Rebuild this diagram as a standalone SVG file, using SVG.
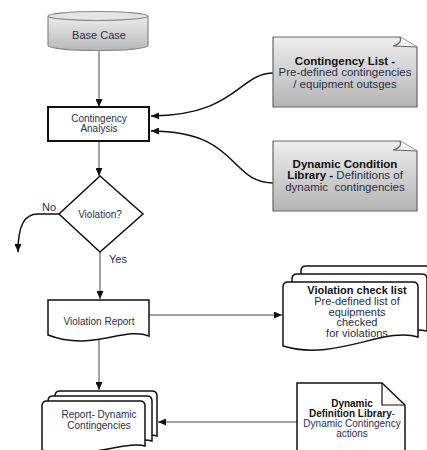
<svg xmlns="http://www.w3.org/2000/svg" width="427" height="450" viewBox="0 0 427 450">
<defs>
<linearGradient id="gCyl" x1="0" y1="0" x2="0" y2="1"><stop offset="0" stop-color="#ececec"/><stop offset="1" stop-color="#b8b8b8"/></linearGradient>
<linearGradient id="gNote" x1="0" y1="0" x2="0" y2="1"><stop offset="0" stop-color="#eeeeee"/><stop offset="1" stop-color="#b4b4b4"/></linearGradient>
<marker id="arr" markerUnits="userSpaceOnUse" markerWidth="8" markerHeight="7" refX="8" refY="3.5" orient="auto"><path d="M0,0 L8,3.5 L0,7 z" fill="#111"/></marker>
<style>
text{font-family:"Liberation Sans",Arial,sans-serif;text-anchor:middle;fill:#2a2f4a}
.b{font-weight:bold;fill:#111}
.s10{font-size:10px}
.s11{font-size:11px}
.s12{font-size:11.5px}
.doc{fill:#fff;stroke:#111;stroke-width:1.5}
.note{fill:url(#gNote);stroke:#666;stroke-width:1.2}
.ln{fill:none;stroke:#444;stroke-width:1;marker-end:url(#arr)}
.cv{fill:none;stroke:#111;stroke-width:1.5;marker-end:url(#arr)}
</style>
</defs>
<g id="connectors">
<line class="ln" x1="99" y1="51" x2="99" y2="107"/>
<path class="cv" d="M274,73 C238,73 238,115 151,116"/>
<path class="cv" d="M274,183 C228,183 240,131 151,131"/>
<line class="ln" x1="99" y1="142" x2="99" y2="176"/>
<path class="cv" d="M59,214 L38,214 C24,214 18,226 18,252"/>
<line class="ln" x1="100" y1="252" x2="100" y2="299"/>
<line class="ln" x1="149" y1="315" x2="282" y2="315"/>
<line class="ln" x1="99" y1="340" x2="99" y2="390"/>
<line class="ln" x1="297" y1="422" x2="158" y2="422"/>
<text class="s11" x="49" y="211">No</text>
<text class="s11" x="118" y="263">Yes</text>
</g>
<g id="base-case">
<path d="M48,16 L48,45.5 A50,5 0 0 0 148,45.5 L148,16" fill="url(#gCyl)" stroke="#888" stroke-width="1.2"/>
<ellipse cx="98" cy="16" rx="50" ry="4.5" fill="#e4e4e4" stroke="#888" stroke-width="1.2"/>
<text class="s11" x="99" y="39">Base Case</text>
</g>
<g id="contingency-analysis">
<rect x="48" y="107" width="101" height="34" fill="#fff" stroke="#111" stroke-width="2"/>
<text class="s10" x="99" y="122">Contingency</text>
<text class="s10" x="99" y="132">Analysis</text>
</g>
<g id="contingency-list">
<path class="note" d="M273,37 L400,37 L417,47 L417,107 L273,107 Z"/>
<path d="M400,37 C402,42 398,45 393,46 L417,47" fill="#f4f4f4" stroke="#666" stroke-width="1.2"/>
<text class="s12 b" x="345" y="64.5">Contingency List -</text>
<text class="s12" x="345" y="76">Pre-defined contingencies</text>
<text class="s12" x="345" y="87.5">/ equipment outsges</text>
</g>
<g id="dynamic-condition-library">
<path class="note" d="M273,141 L400,141 L417,151 L417,211 L273,211 Z"/>
<path d="M400,141 C402,146 398,149 393,150 L417,151" fill="#f4f4f4" stroke="#666" stroke-width="1.2"/>
<text class="s12 b" x="345" y="167.5">Dynamic Condition</text>
<text class="s12" x="345" y="179"><tspan class="b">Library -</tspan> Definitions of</text>
<text class="s12" x="345" y="190.5" xml:space="preserve">dynamic  contingencies</text>
</g>
<g id="violation-decision">
<path d="M100,176 L143,214 L100,252 L59,214 Z" fill="#fff" stroke="#111" stroke-width="1.5"/>
<text class="s10" x="100" y="218">Violation?</text>
</g>
<g id="violation-report">
<path class="doc" d="M48,300 L149,300 L149,336 C125,326 92,352 48,335 Z"/>
<text class="s10" x="99" y="325">Violation Report</text>
</g>
<g id="violation-check-list">
<path class="doc" d="M301,271 Q301,266 306,266 L431,266 Q436,266 436,271 L436,322 C410,316 340,345 301,330 Z"/>
<path class="doc" d="M292,279 Q292,274 297,274 L422,274 Q427,274 427,279 L427,331 C400,324 330,353 292,338 Z"/>
<path class="doc" d="M283,287 Q283,282 288,282 L413,282 Q418,282 418,287 L418,337 C385,326 335,362 283,346 Z"/>
<text class="s11 b" x="357" y="294">Violation check list</text>
<text class="s11" x="357" y="305">Pre-defined list of</text>
<text class="s11" x="357" y="315.5">equipments</text>
<text class="s11" x="357" y="326">checked</text>
<text class="s11" x="357" y="336.5">for violations</text>
</g>
<g id="report-dynamic-contingencies">
<path class="doc" d="M55,396 Q55,391 60,391 L152,391 Q157,391 157,396 L157,436 C140,430 90,452 55,440 Z"/>
<path class="doc" d="M48,401 Q48,396 53,396 L147,396 Q152,396 152,401 L152,441 C135,435 85,457 48,445 Z"/>
<path class="doc" d="M42,406 Q42,401 47,401 L140,401 Q145,401 145,406 L145,446 C128,440 78,462 42,450 Z"/>
<text class="s10" x="99" y="418">Report- Dynamic</text>
<text class="s10" x="99" y="429">Contingencies</text>
</g>
<g id="dynamic-definition-library">
<path d="M297,383 L382,383 L405,405 L405,452 L297,452 Z" fill="#fff" stroke="#111" stroke-width="1.5"/>
<path d="M382,383 L382,405 L405,405" fill="none" stroke="#111" stroke-width="1.2"/>
<text class="s10 b" x="352" y="407">Dynamic</text>
<text class="s10" x="352" y="417"><tspan class="b">Definition Library</tspan>-</text>
<text class="s10" x="352" y="427">Dynamic Contingency</text>
<text class="s10" x="352" y="437">actions</text>
</g>
</svg>
